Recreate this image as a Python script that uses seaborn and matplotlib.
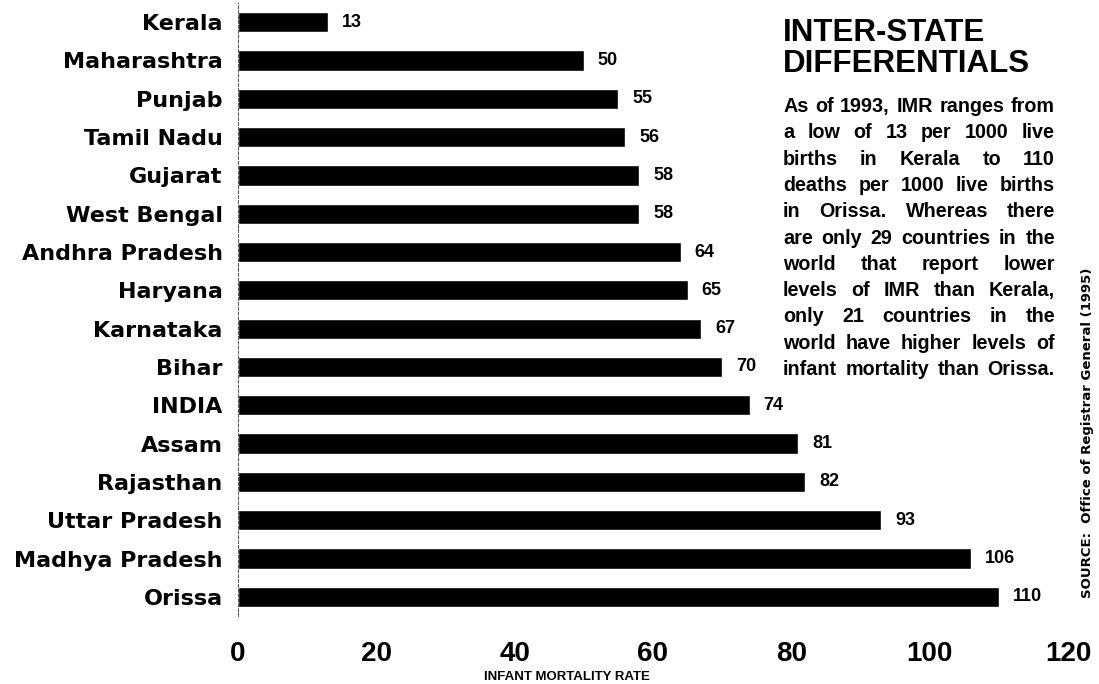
import pandas as pd
import seaborn as sns
import matplotlib.pyplot as plt

states = ['Kerala', 'Maharashtra', 'Punjab', 'Tamil Nadu', 'Gujarat', 'West Bengal',
          'Andhra Pradesh', 'Haryana', 'Karnataka', 'Bihar', 'INDIA', 'Assam',
          'Rajasthan', 'Uttar Pradesh', 'Madhya Pradesh', 'Orissa']
imr = [13, 50, 55, 56, 58, 58, 64, 65, 67, 70, 74, 81, 82, 93, 106, 110]
x_ticks = [0, 20, 40, 60, 80, 100, 120]

title_lines = ['INTER-STATE', 'DIFFERENTIALS']
note_lines = ['As of 1993, IMR ranges from',
              'a low of 13 per 1000 live',
              'births in Kerala to 110',
              'deaths per 1000 live births',
              'in Orissa.  Whereas there',
              'are only 29 countries in the',
              'world that report lower',
              'levels of IMR than Kerala,',
              'only 21 countries in the',
              'world have higher levels of',
              'infant mortality than Orissa.']
source = 'SOURCE:  Office of Registrar General (1995)'

sns.set_theme(style='white')
plt.rcParams['font.family'] = ['Liberation Sans', 'DejaVu Sans']
plt.rcParams['font.weight'] = 'bold'
plt.rcParams['text.color'] = 'black'
plt.rcParams['xtick.color'] = 'black'
plt.rcParams['ytick.color'] = 'black'
plt.rcParams['axes.labelcolor'] = 'black'

W, H = 1099, 684
df = pd.DataFrame({'state': states, 'imr': imr})

fig = plt.figure(figsize=(W / 100, H / 100), dpi=100)
ax = fig.add_axes([238 / W, 1 - 616 / H, 830 / W, 613 / H])

sns.barplot(data=df, x='imr', y='state', orient='h', color='black',
            width=0.53, saturation=1, ax=ax)
ax.bar_label(ax.containers[0], padding=10, fontsize=13, fontweight='bold')

ax.set_xlim(0, 120)
ax.set_ylim(15.5, -0.5)
ax.set_xticks(x_ticks)
ax.set_xticklabels([str(t) for t in x_ticks], fontsize=20, fontweight='bold')
ax.set_yticklabels(states, fontsize=16, fontweight='bold', family='DejaVu Sans')
ax.tick_params(axis='x', length=0, pad=18)
ax.tick_params(axis='y', length=0, pad=11)
ax.set_ylabel('')
ax.set_xlabel('INFANT MORTALITY RATE', fontsize=9.5, fontweight='bold', labelpad=0)
ax.xaxis.set_label_coords(0.396, -0.09)

for side in ['top', 'right', 'bottom']:
    ax.spines[side].set_visible(False)
ax.spines['left'].set_color('#555555')
ax.spines['left'].set_linewidth(0.7)
ax.spines['left'].set_linestyle((0, (3, 2)))

# title block, right side
for i, line in enumerate(title_lines):
    fig.text(783 / W, 1 - (41 + i * 31) / H, line, fontsize=22.5, fontweight='bold',
             va='baseline', ha='left')

# justified paragraph
renderer = fig.canvas.get_renderer()
x0, x1 = 783, 1055
for i, line in enumerate(note_lines):
    y = 1 - (112 + i * 26.3) / H
    words = line.split()
    texts = [fig.text(0, y, w, fontsize=14.2, fontweight='bold', va='baseline', ha='left')
             for w in words]
    widths = [t.get_window_extent(renderer).width for t in texts]
    gap = (x1 - x0 - sum(widths)) / (len(words) - 1)
    x = x0
    for t, w in zip(texts, widths):
        t.set_x(x / W)
        x += w + gap

fig.text(1088 / W, 1 - 433 / H, source, fontsize=9.5, fontweight='bold', rotation=90,
         family='DejaVu Sans', va='center', ha='center')

fig.savefig('out.png', dpi=100, facecolor='white')
